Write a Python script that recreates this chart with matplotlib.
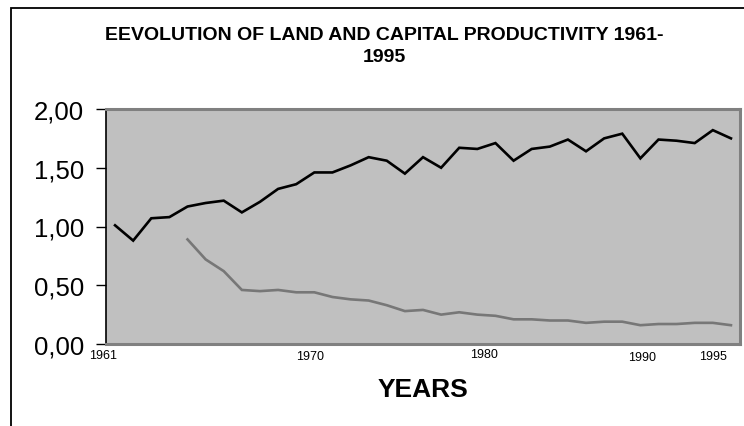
import matplotlib
matplotlib.use("Agg")
import matplotlib.pyplot as plt
from matplotlib.patches import Rectangle
from matplotlib.ticker import FuncFormatter

plt.rcParams['font.family'] = ['Liberation Sans', 'DejaVu Sans']

# data
years = list(range(1961, 1996))
land_prod = [1.01, 0.88, 1.07, 1.08, 1.17, 1.20, 1.22, 1.12, 1.21, 1.32,
             1.36, 1.46, 1.46, 1.52, 1.59, 1.56, 1.45, 1.59, 1.50, 1.67,
             1.66, 1.71, 1.56, 1.66, 1.68, 1.74, 1.64, 1.75, 1.79, 1.58,
             1.74, 1.73, 1.71, 1.82, 1.75]
capital_years = list(range(1965, 1996))
capital_prod = [0.89, 0.72, 0.62, 0.46, 0.45, 0.46, 0.44, 0.44, 0.40, 0.38,
                0.37, 0.33, 0.28, 0.29, 0.25, 0.27, 0.25, 0.24, 0.21, 0.21,
                0.20, 0.20, 0.18, 0.19, 0.19, 0.16, 0.17, 0.17, 0.18, 0.18,
                0.16]
yticks = [0.0, 0.5, 1.0, 1.5, 2.0]
# x labels the way the original sheet shows them (category position, text)
xlabel_pos = [-0.64, 10.76, 20.37, 29.09, 33.0]
xlabel_txt = ['1961', '1970', '1980', '1990', '1995']
xlabel_dy = [-11, -12, -10, -13, -12]  # pixel offsets below the axis

fig = plt.figure(figsize=(7.44, 4.27), dpi=100)
ax = fig.add_axes([106 / 744, 1 - 345 / 427, 634 / 744, 235 / 427])
ax.set_facecolor('#C0C0C0')

x_land = [years.index(y) for y in years]
x_cap = [years.index(y) for y in capital_years]
ax.plot(x_land, land_prod, color='black', lw=1.9, solid_joinstyle='miter')
ax.plot(x_cap, capital_prod, color='#777777', lw=1.9, solid_joinstyle='miter')

ax.set_xlim(-0.5, len(years) - 0.5)
ax.set_ylim(0, 2.0)
ax.set_yticks(yticks)
ax.yaxis.set_major_formatter(FuncFormatter(lambda v, p: f'{v:.2f}'.replace('.', ',')))
ax.tick_params(axis='y', direction='out', length=7, width=1, pad=9, labelsize=18.5)
ax.set_xticks([])

for side in ['top', 'right', 'bottom']:
    ax.spines[side].set_color('#808080')
    ax.spines[side].set_linewidth(2.2)
ax.spines['left'].set_color('black')
ax.spines['left'].set_linewidth(1.2)

for pos, txt, dy in zip(xlabel_pos, xlabel_txt, xlabel_dy):
    ax.annotate(txt, xy=(pos, 0), xycoords=('data', 'axes fraction'),
                xytext=(0, dy * 0.72), textcoords='offset points',
                ha='center', va='center', fontsize=9)

fig.text(384 / 744, 1 - 46.5 / 427,
         'EEVOLUTION OF LAND AND CAPITAL PRODUCTIVITY 1961-\n1995',
         ha='center', va='center', multialignment='center',
         fontsize=14, fontweight='bold', linespacing=1.38)
fig.text(423 / 744, 1 - 390 / 427, 'YEARS', ha='center', va='center',
         fontsize=19, fontweight='bold')

# outer chart frame (runs off the right and bottom edges)
fig.patches.append(Rectangle((11 / 744, -0.1), 1.0, 1 - 9 / 427 + 0.1,
                             transform=fig.transFigure, fill=False,
                             edgecolor='black', lw=1.3))

fig.savefig('out.png', dpi=100)
